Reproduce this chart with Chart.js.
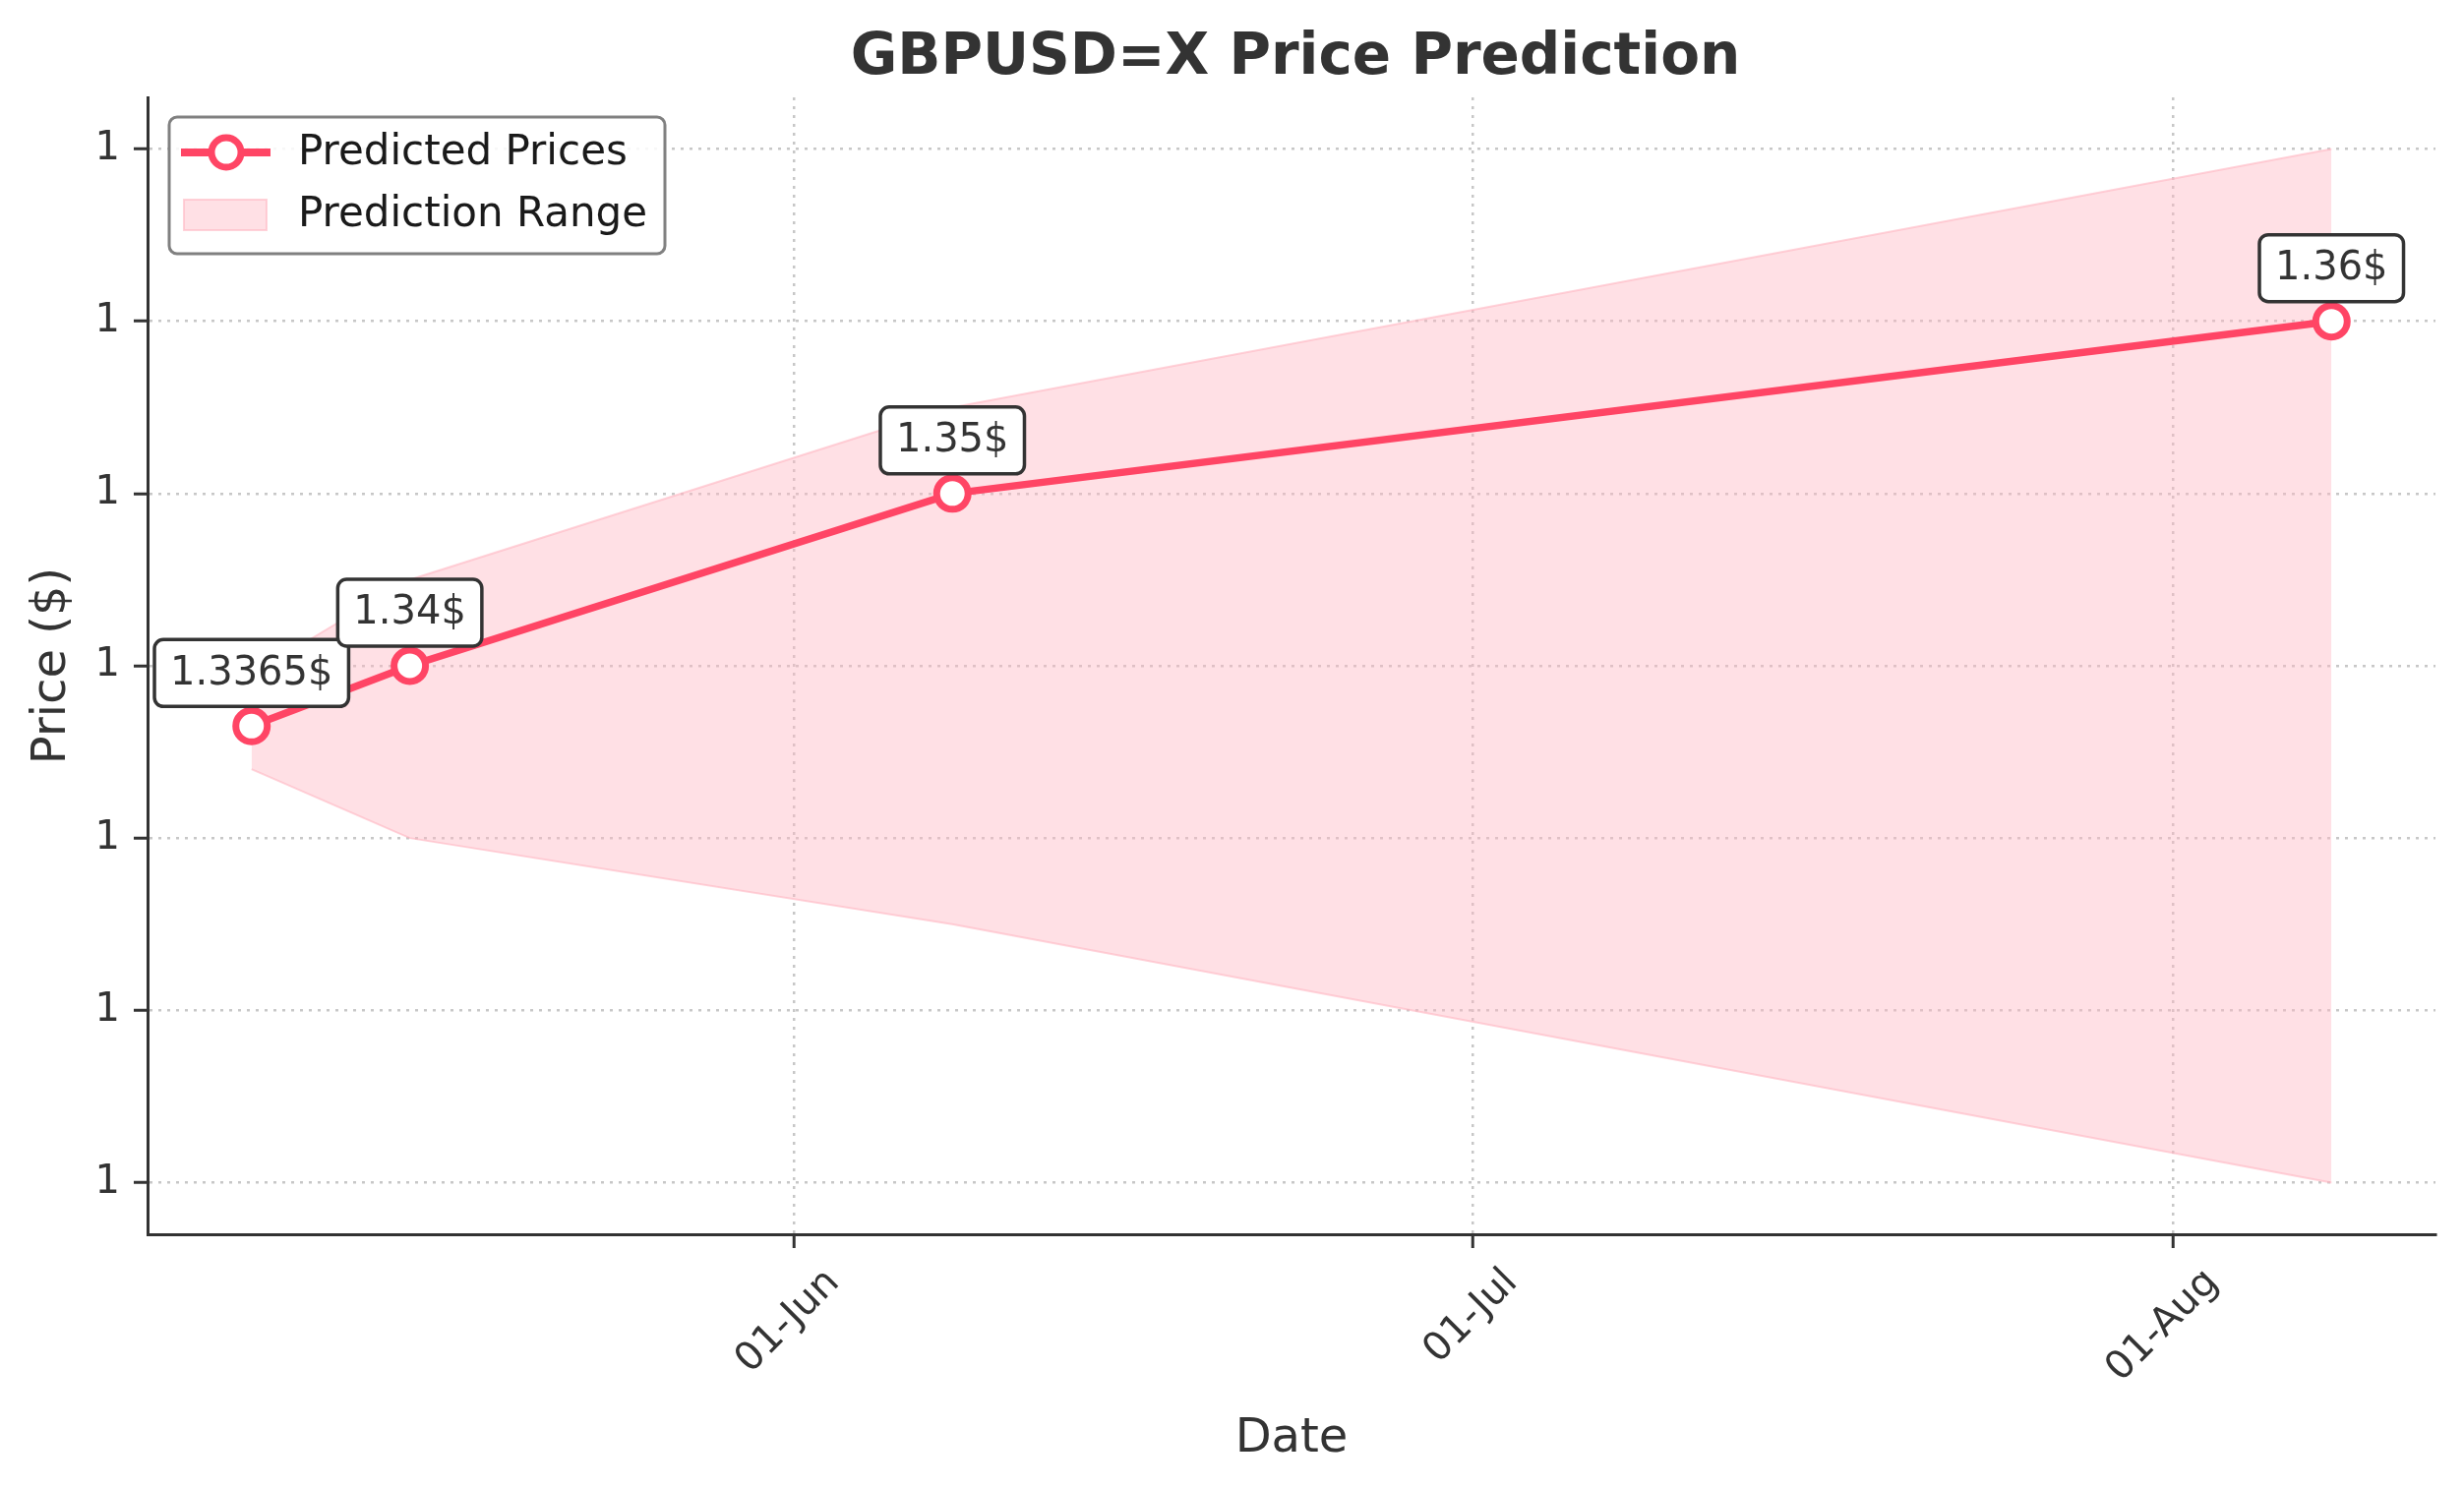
<!DOCTYPE html>
<html>
<head>
<meta charset="utf-8">
<script src="https://cdn.jsdelivr.net/npm/chart.js@4.4.1/dist/chart.umd.min.js"></script>
<style>
html, body { margin: 0; padding: 0; background: #fff; }
#wrap { width: 2505px; height: 1513px; }
</style>
</head>
<body>
<div id="wrap"><canvas id="priceChart"></canvas></div>
<script>
// values
const dates = ['2025-05-08', '2025-05-15', '2025-06-08', '2025-08-08'];
const predicted = [1.3365, 1.34, 1.35, 1.36];
const upperBound = [1.3395, 1.345, 1.355, 1.37];
const lowerBound = [1.334, 1.33, 1.325, 1.31];
const pointLabels = ['1.3365$', '1.34$', '1.35$', '1.36$'];
const xTickDates = ['2025-06-01', '2025-07-01', '2025-08-01'];
const xTickLabels = ['01-Jun', '01-Jul', '01-Aug'];
const yTickValues = [1.31, 1.32, 1.33, 1.34, 1.35, 1.36, 1.37];
const yTickLabels = ['1', '1', '1', '1', '1', '1', '1'];
const legendLabels = ['Predicted Prices', 'Prediction Range'];

const lineColor = '#ff4565';
const rangeFill = 'rgba(255, 182, 193, 0.42)';
const rangeEdge = 'rgba(255, 182, 193, 0.6)';
const gridColor = 'rgba(0, 0, 0, 0.22)';
const FONT = '"DejaVu Sans", sans-serif';

const toDay = s => Date.UTC(+s.slice(0, 4), +s.slice(5, 7) - 1, +s.slice(8, 10)) / 86400000;
const days = dates.map(toDay);

// matplotlib style 5% margins
const xSpan = days[days.length - 1] - days[0];
const xMin = days[0] - 0.05 * xSpan, xMax = days[days.length - 1] + 0.05 * xSpan;
const yLo = Math.min(...lowerBound), yHi = Math.max(...upperBound);
const yMin = yLo - 0.05 * (yHi - yLo), yMax = yHi + 0.05 * (yHi - yLo);

const pts = arr => days.map((d, i) => ({ x: d, y: arr[i] }));

Chart.defaults.font.family = FONT;
Chart.defaults.color = '#333';

const labelBoxes = {
    id: 'labelBoxes',
    afterDatasetsDraw(chart) {
        const ctx = chart.ctx;
        const meta = chart.getDatasetMeta(2);
        ctx.save();
        ctx.font = '40px ' + FONT;
        meta.data.forEach((pt, i) => {
            const text = pointLabels[i];
            const w = ctx.measureText(text).width + 32;
            const h = 68;
            const x0 = pt.x - w / 2, y0 = pt.y - 20 - h;
            ctx.beginPath();
            ctx.roundRect(x0, y0, w, h, 9);
            ctx.fillStyle = '#fff';
            ctx.fill();
            ctx.lineWidth = 3.5;
            ctx.strokeStyle = '#333';
            ctx.stroke();
            ctx.fillStyle = '#333';
            ctx.textAlign = 'center';
            ctx.textBaseline = 'middle';
            ctx.fillText(text, pt.x, y0 + h / 2 + 1);
        });
        ctx.restore();
    }
};

const titleAndLegend = {
    id: 'titleAndLegend',
    afterDraw(chart) {
        const ctx = chart.ctx;
        const area = chart.chartArea;
        ctx.save();
        // title
        ctx.font = 'bold 58px ' + FONT;
        ctx.fillStyle = '#333';
        ctx.textAlign = 'center';
        ctx.textBaseline = 'alphabetic';
        ctx.fillText('GBPUSD=X Price Prediction', (area.left + area.right) / 2 + 4, 75);

        // legend box
        const bx = area.left + 22, by = area.top + 20, bw = 504, bh = 139;
        ctx.beginPath();
        ctx.roundRect(bx, by, bw, bh, 8);
        ctx.fillStyle = 'rgba(255,255,255,0.85)';
        ctx.fill();
        ctx.lineWidth = 3;
        ctx.strokeStyle = '#808080';
        ctx.stroke();

        const r1 = by + 36, r2 = by + 99;
        ctx.beginPath();
        ctx.moveTo(bx + 12, r1);
        ctx.lineTo(bx + 103, r1);
        ctx.lineWidth = 8;
        ctx.strokeStyle = lineColor;
        ctx.stroke();
        ctx.beginPath();
        ctx.arc(bx + 58, r1, 15, 0, Math.PI * 2);
        ctx.fillStyle = '#fff';
        ctx.fill();
        ctx.lineWidth = 7;
        ctx.stroke();

        ctx.fillStyle = rangeFill;
        ctx.fillRect(bx + 15, r2 - 15, 84, 31);
        ctx.lineWidth = 2;
        ctx.strokeStyle = rangeEdge;
        ctx.strokeRect(bx + 15, r2 - 15, 84, 31);

        ctx.font = '42px ' + FONT;
        ctx.fillStyle = '#1a1a1a';
        ctx.textAlign = 'left';
        ctx.textBaseline = 'middle';
        ctx.fillText(legendLabels[0], bx + 131, r1 + 1);
        ctx.fillText(legendLabels[1], bx + 131, r2 + 1);
        ctx.restore();
    }
};

new Chart(document.getElementById('priceChart'), {
    type: 'line',
    data: {
        datasets: [
            {
                label: 'lower',
                data: pts(lowerBound),
                borderColor: rangeEdge,
                borderWidth: 2,
                pointRadius: 0,
                fill: false,
                order: 3
            },
            {
                label: legendLabels[1],
                data: pts(upperBound),
                borderColor: rangeEdge,
                borderWidth: 2,
                backgroundColor: rangeFill,
                pointRadius: 0,
                fill: '-1',
                order: 2
            },
            {
                label: legendLabels[0],
                data: pts(predicted),
                borderColor: lineColor,
                borderWidth: 7.5,
                pointRadius: 16,
                pointBorderWidth: 7,
                pointBackgroundColor: '#fff',
                pointBorderColor: lineColor,
                fill: false,
                order: 1
            }
        ]
    },
    plugins: [labelBoxes, titleAndLegend],
    options: {
        responsive: true,
        maintainAspectRatio: false,
        animation: false,
        events: [],
        layout: { padding: { top: 99, right: 29, bottom: 0, left: 0 } },
        plugins: {
            legend: { display: false },
            tooltip: { enabled: false },
            title: { display: false }
        },
        scales: {
            x: {
                type: 'linear',
                min: xMin,
                max: xMax,
                afterFit: s => { s.height = 258; },
                afterBuildTicks: s => { s.ticks = xTickDates.map(d => ({ value: toDay(d) })); },
                ticks: {
                    callback: (v, i) => xTickLabels[i],
                    minRotation: 45,
                    maxRotation: 45,
                    padding: 12,
                    labelOffset: 40,
                    font: { size: 40 },
                    color: '#333'
                },
                grid: {
                    color: gridColor,
                    lineWidth: 2.5,
                    tickLength: 14,
                    tickColor: '#333',
                    tickWidth: 3,
                    tickBorderDash: []
                },
                border: { display: true, color: '#333', width: 3, dash: [3, 6] },
                title: {
                    display: true,
                    text: 'Date',
                    font: { size: 48 },
                    color: '#333',
                    padding: { top: 0, bottom: 21 }
                }
            },
            y: {
                min: yMin,
                max: yMax,
                afterFit: s => { s.width = 150; },
                afterBuildTicks: s => { s.ticks = yTickValues.map(v => ({ value: v })); },
                ticks: {
                    callback: (v, i) => yTickLabels[i],
                    padding: 14,
                    font: { size: 40 },
                    color: '#333'
                },
                grid: {
                    color: gridColor,
                    lineWidth: 2.5,
                    tickLength: 14,
                    tickColor: '#333',
                    tickWidth: 3,
                    tickBorderDash: []
                },
                border: { display: true, color: '#333', width: 3, dash: [3, 6] },
                title: {
                    display: true,
                    text: 'Price ($)',
                    font: { size: 48 },
                    color: '#333',
                    padding: { top: 25, bottom: 0 }
                }
            }
        }
    }
});
</script>
</body>
</html>
